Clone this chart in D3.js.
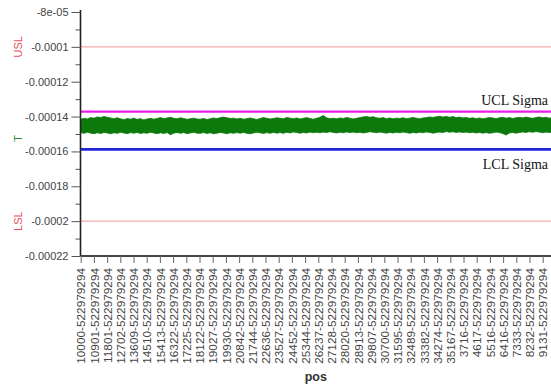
<!DOCTYPE html>
<html lang="en">
<head>
<meta charset="UTF-8">
<title>T control chart</title>
<script src="https://cdn.jsdelivr.net/npm/d3@7"></script>
<style>
  html, body { margin: 0; padding: 0; background: #fff; }
  svg { display: block; font-family: "Liberation Sans", Arial, sans-serif; }
  .tick text { fill: #444; }
  .limit-label { font-family: "Liberation Serif", "Times New Roman", serif; font-size: 14px; fill: #111; }
</style>
</head>
<body>
<svg id="chart" width="551" height="385"></svg>
<script>
// x categories (pos labels shown on the axis)
const posLabels = [
  "10000-522979294", "10901-522979294", "11801-522979294", "12702-522979294",
  "13609-522979294", "14510-522979294", "15413-522979294", "16322-522979294",
  "17225-522979294", "18122-522979294", "19027-522979294", "19930-522979294",
  "20842-522979294", "21744-522979294", "22636-522979294", "23527-522979294",
  "24452-522979294", "25344-522979294", "26237-522979294", "27128-522979294",
  "28020-522979294", "28913-522979294", "29807-522979294", "30700-522979294",
  "31595-522979294", "32489-522979294", "33382-522979294", "34274-522979294",
  "35167-522979294", "3716-522979294", "4617-522979294", "5516-522979294",
  "6416-522979294", "7333-522979294", "8232-522979294", "9131-522979294"
];

// y ticks
const yTickValues = [-0.00008, -0.0001, -0.00012, -0.00014, -0.00016, -0.00018, -0.0002, -0.00022];
const yTickLabels = ["-8e-05", "-0.0001", "-0.00012", "-0.00014", "-0.00016", "-0.00018", "-0.0002", "-0.00022"];

// spec / control limits
const USL = -0.0001;
const LSL = -0.0002;
const UCL = -0.0001372;
const LCL = -0.0001588;

// T series, read as upper and lower envelope of the dense trace (units of 1e-6)
const tUpper = [
  -141.6,-141.0,-141.4,-140.6,-140.9,-140.2,-140.5,-140.0,-140.4,-140.8,-141.2,-140.7,
  -141.3,-141.8,-141.1,-141.5,-140.9,-141.6,-141.2,-141.9,-141.4,-141.0,-141.5,-141.1,
  -140.6,-141.2,-140.8,-140.4,-141.0,-141.3,-140.7,-141.1,-141.6,-141.2,-140.9,-141.4,
  -141.5,-141.1,-141.7,-141.3,-140.8,-141.2,-140.6,-140.3,-140.7,-141.1,-140.9,-141.4,
  -141.0,-141.5,-141.2,-140.8,-141.3,-141.7,-141.1,-140.6,-141.0,-141.4,-141.1,-140.7,
  -140.9,-141.3,-140.5,-140.9,-141.2,-140.8,-141.4,-141.0,-140.6,-141.1,-141.5,-141.0,
  -140.4,-139.4,-140.7,-141.2,-140.9,-141.3,-140.8,-141.1,-140.5,-140.9,-141.4,-141.0,
  -140.6,-140.2,-139.9,-140.4,-140.1,-140.7,-141.0,-140.6,-141.2,-140.8,-141.3,-140.9,
  -141.1,-140.7,-141.2,-140.9,-140.5,-140.9,-141.3,-140.8,-140.6,-140.2,-140.5,-140.1,
  -139.8,-140.3,-139.9,-140.4,-140.0,-140.6,-140.3,-140.8,-140.5,-141.0,-140.7,-141.2,
  -140.8,-141.3,-140.9,-140.5,-140.8,-141.2,-140.7,-140.4,-140.9,-140.6,-141.1,-140.7,
  -140.4,-140.8,-140.3,-140.7,-141.0,-140.6,-140.2,-140.7,-140.4,-140.9,-140.5,-140.8
].map(v => v * 1e-6);

const tLower = [
  -149.2,-149.6,-149.0,-149.5,-149.8,-149.3,-149.7,-149.1,-149.4,-149.9,-149.3,-149.6,
  -149.0,-149.4,-149.8,-149.2,-149.5,-149.1,-149.7,-149.3,-149.6,-149.0,-149.4,-149.8,
  -149.3,-149.7,-149.2,-150.4,-149.5,-149.1,-149.6,-149.2,-149.8,-149.4,-149.0,-149.5,
  -149.6,-149.2,-149.7,-149.3,-149.9,-149.5,-149.1,-149.4,-149.8,-149.3,-149.6,-149.2,
  -149.5,-149.1,-149.6,-149.9,-149.4,-149.0,-149.3,-149.7,-149.2,-149.6,-149.1,-149.5,
  -149.2,-149.6,-149.0,-149.4,-148.8,-149.2,-149.5,-149.1,-149.4,-148.9,-149.3,-149.0,
  -149.3,-148.9,-149.2,-148.7,-149.1,-149.4,-149.0,-149.3,-148.8,-149.2,-148.9,-149.3,
  -149.0,-149.4,-149.1,-148.7,-149.0,-149.3,-148.9,-149.2,-149.5,-149.1,-149.4,-149.0,
  -149.3,-148.9,-149.2,-149.6,-149.1,-149.4,-149.0,-149.3,-148.8,-149.1,-149.5,-149.2,
  -148.9,-149.2,-148.6,-149.0,-148.7,-149.1,-148.8,-149.2,-148.9,-149.3,-149.0,-149.4,
  -149.1,-149.5,-149.2,-149.6,-149.3,-148.9,-149.2,-149.7,-150.6,-149.4,-149.1,-149.5,
  -149.2,-148.8,-149.1,-148.7,-149.0,-148.6,-148.9,-149.3,-148.9,-149.2,-148.8,-149.1
].map(v => v * 1e-6);

const W = 551, H = 385;
const plotLeft = 80.5, plotRight = W, plotTop = 12, plotBottom = 256;

const svg = d3.select("#chart");

const y = d3.scaleLinear().domain([-0.00022, -0.00008]).range([plotBottom, plotTop]);
const xCat = d3.scalePoint().domain(posLabels).range([80.7, 542.7]);
// trace runs one more label-step past the last label
const xIdx = d3.scaleLinear().domain([0, posLabels.length - 1]).range(xCat.range());
const step = posLabels.length / (tUpper.length - 1);

const plot = svg.append("g");
plot.append("clipPath").attr("id", "clip")
  .append("rect").attr("x", plotLeft).attr("y", 0).attr("width", plotRight - plotLeft).attr("height", plotBottom);

// spec limits
plot.selectAll(".spec").data([USL, LSL]).join("line")
  .attr("class", "spec")
  .attr("x1", plotLeft).attr("x2", plotRight)
  .attr("y1", d => y(d)).attr("y2", d => y(d))
  .attr("stroke", "#f6a9ae").attr("stroke-width", 1.3);

// T trace
const area = d3.area()
  .x((d, i) => xIdx(i * step))
  .y0((d, i) => y(tLower[i]))
  .y1(d => y(d))
  .curve(d3.curveLinear);

plot.append("path")
  .datum(tUpper)
  .attr("clip-path", "url(#clip)")
  .attr("d", area)
  .attr("fill", "#0b790b")
  .attr("stroke", "#0b790b")
  .attr("stroke-width", 0.8);

// control limits
plot.append("line")
  .attr("x1", plotLeft).attr("x2", plotRight)
  .attr("y1", y(UCL)).attr("y2", y(UCL))
  .attr("stroke", "#ec1dec").attr("stroke-width", 2.2);
plot.append("line")
  .attr("x1", plotLeft).attr("x2", plotRight)
  .attr("y1", y(LCL)).attr("y2", y(LCL))
  .attr("stroke", "#1f26d6").attr("stroke-width", 2.6);

svg.append("text").attr("class", "limit-label")
  .attr("x", W - 3).attr("y", y(UCL) - 7).attr("text-anchor", "end").text("UCL Sigma");
svg.append("text").attr("class", "limit-label")
  .attr("x", W - 3).attr("y", y(LCL) + 20).attr("text-anchor", "end").text("LCL Sigma");

// y axis
const yMinor = d3.range(yTickValues.length - 1).map(i => (yTickValues[i] + yTickValues[i + 1]) / 2);
svg.append("g")
  .attr("transform", `translate(${plotLeft},0)`)
  .call(d3.axisLeft(y).tickValues(yMinor).tickFormat("").tickSize(5).tickSizeOuter(0))
  .call(g => g.select(".domain").remove())
  .call(g => g.selectAll(".tick line").attr("stroke", "#555"));

svg.append("g")
  .attr("transform", `translate(${plotLeft},0)`)
  .call(d3.axisLeft(y).tickValues(yTickValues)
    .tickFormat((d, i) => yTickLabels[i]).tickSize(9).tickSizeOuter(0).tickPadding(3))
  .call(g => g.select(".domain").attr("stroke", "#222").attr("stroke-width", 1.6).attr("d", `M0,${plotTop - 2}V${plotBottom}`))
  .call(g => g.selectAll(".tick line").attr("stroke", "#555"))
  .call(g => g.selectAll(".tick text").attr("font-size", 11).attr("font-family", "Liberation Sans, Arial, sans-serif"));

// x axis
const xAxis = svg.append("g")
  .attr("transform", `translate(0,${plotBottom})`)
  .call(d3.axisBottom(xCat).tickSize(7).tickSizeOuter(0))
  .call(g => g.select(".domain").attr("stroke", "#444").attr("stroke-width", 2).attr("d", `M${plotLeft},0H${plotRight}`))
  .call(g => g.selectAll(".tick line").attr("stroke", "#666"));

xAxis.selectAll(".tick text")
  .attr("font-size", 11.8)
  .attr("font-family", "Liberation Sans, Arial, sans-serif")
  .attr("text-anchor", "end")
  .attr("transform", "rotate(-90)")
  .attr("x", -12)
  .attr("y", 0)
  .attr("dy", "0.35em");

// axis titles
svg.append("text")
  .attr("x", (plotLeft + plotRight) / 2).attr("y", 381)
  .attr("text-anchor", "middle")
  .attr("font-size", 12.5).attr("font-weight", "bold").attr("fill", "#333")
  .text("pos");

const sideLabels = [
  { text: "USL", v: USL, color: "#ec4d5b" },
  { text: "T", v: (UCL + LCL) / 2 - 0.0000045, color: "#2b8a2b" },
  { text: "LSL", v: LSL, color: "#ec4d5b" }
];
svg.selectAll(".side").data(sideLabels).join("text")
  .attr("class", "side")
  .attr("transform", d => `translate(18,${y(d.v)}) rotate(-90)`)
  .attr("text-anchor", "middle")
  .attr("dy", "0.35em")
  .attr("font-size", 11)
  .attr("fill", d => d.color)
  .text(d => d.text);
</script>
</body>
</html>
